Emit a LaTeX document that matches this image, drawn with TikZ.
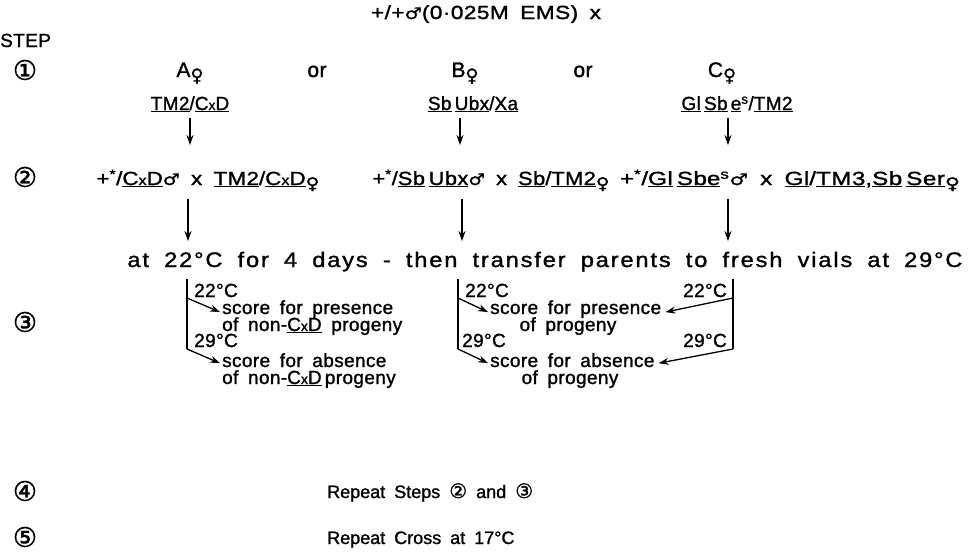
\documentclass[tikz,border=0pt]{standalone}
\usepackage{fontspec}
\setmainfont{Liberation Sans}[WordSpace=1.7,LetterSpace=2,FakeBold=1.3]
\newfontfamily\dv{DejaVu Sans}[FakeBold=1.3]
\newfontfamily\widefont{Liberation Sans}[WordSpace=1.8,LetterSpace=8,FakeBold=1.3]
\newfontfamily\plainfont{Liberation Sans}[WordSpace=1.8,FakeBold=1.3]
\usepackage{graphicx}
\usetikzlibrary{arrows.meta}
\newcommand\ul[1]{\underline{#1}}
\newcommand\fem{\raisebox{-0.4ex}{\scalebox{0.85}{{\dv ♀}}}}
\newcommand\mal{\scalebox{0.85}{{\dv ♂}}}
\newcommand\smx{{\fontsize{14}{14}\selectfont x}}
\newcommand\fitw[2]{\resizebox{#1}{\height}{#2}}
\newcommand\stx{\textsuperscript{*}}
\newcommand\cd[1]{{\dv\fontsize{20}{20}\selectfont #1}}
\begin{document}
\begin{tikzpicture}[x=1pt,y=-1pt,
  every node/.style={inner sep=0pt},
  txt/.style={font=\fontsize{19}{22}\selectfont},
  big/.style={font=\fontsize{21}{24}\selectfont},
  rep/.style={font=\plainfont\fontsize{18}{21}\selectfont},
  circ/.style={font=\dv\fontsize{27}{27}\selectfont},
  arr/.style={-{Stealth[length=10pt,width=7pt]}, line width=1.3pt},
  ln/.style={line width=1.3pt}]
\useasboundingbox (0,0) rectangle (970,552);

% header
\node[txt,anchor=base] (title) at (486,19) {\fitw{230pt}{+/+\mal(0·025M EMS) x}};
\node[txt,anchor=base west] (step) at (0,47) {STEP};

% step numbers
\node[circ] (n1) at (25,70) {①};
\node[circ] (n2) at (25,177) {②};
\node[circ] (n3) at (25,322) {③};
\node[circ] (n4) at (25,491) {④};
\node[circ] (n5) at (25,537) {⑤};

% step 1
\node[big,anchor=base] (A) at (190,77) {A\fem};
\node[big,anchor=base] (or1) at (317,77) {or};
\node[big,anchor=base] (B) at (465,77) {B\fem};
\node[big,anchor=base] (or2) at (583,77) {or};
\node[big,anchor=base] (C) at (722,77) {C\fem};

\node[txt,anchor=base] (gA) at (190,110) {\ul{TM2}/\ul{C\smx D}};
\node[txt,anchor=base] (gB) at (473,110) {\ul{Sb}\,\ul{Ubx}/\ul{Xa}};
\node[txt,anchor=base] (gC) at (737,110) {\ul{Gl}\,\ul{Sb}\,\ul{e}\textsuperscript{s}/\ul{TM2}};

\coordinate (a1t) at (190,118); \coordinate (a1b) at (190,145);
\coordinate (b1t) at (460,118); \coordinate (b1b) at (460,145);
\coordinate (c1t) at (728,118); \coordinate (c1b) at (728,145);
\draw[arr] (a1t) -- (a1b);
\draw[arr] (b1t) -- (b1b);
\draw[arr] (c1t) -- (c1b);

% step 2
\node[txt,anchor=base] (xA) at (208,185) {\fitw{223pt}{+\stx/\ul{C\smx D}\mal{} x \ul{TM2}/\ul{C\smx D}\fem}};
\node[txt,anchor=base] (xB) at (491,185) {\fitw{237pt}{+\stx/\ul{Sb}\,\ul{Ubx}\mal{} x \ul{Sb}/\ul{TM2}\fem}};
\node[txt,anchor=base] (xC) at (790,185) {\fitw{340pt}{+\stx/\ul{Gl}\,\ul{Sb}\ul{e}\textsuperscript{s}\mal{} x \ul{Gl}/\ul{TM3},\ul{Sb}\,\ul{Ser}\fem}};

\coordinate (a2t) at (188,199); \coordinate (a2b) at (188,241);
\coordinate (b2t) at (462,199); \coordinate (b2b) at (462,241);
\coordinate (c2t) at (728,199); \coordinate (c2b) at (728,241);
\draw[arr] (a2t) -- (a2b);
\draw[arr] (b2t) -- (b2b);
\draw[arr] (c2t) -- (c2b);

\node[anchor=base,font=\widefont\fontsize{21}{24}\selectfont] (temp) at (545,267) {\fitw{835pt}{at 22°C for 4 days - then transfer parents to fresh vials at 29°C}};

% step 3, left
\coordinate (L0) at (187,279); \coordinate (Lp) at (187,298); \coordinate (L1) at (187,349);
\node[txt,anchor=base west] (l22) at (194,297) {22°C};
\node[txt,anchor=base west] (lp1) at (222,314) {score for presence};
\node[txt,anchor=base west] (lp2) at (222,331) {of non-\ul{C\smx D} progeny};
\node[txt,anchor=base west] (l29) at (194,347) {29°C};
\node[txt,anchor=base west] (la1) at (222,367) {score for absence};
\node[txt,anchor=base west] (la2) at (222,384) {of non-\ul{C\smx D}\,progeny};
\draw[ln] (L0) -- (L1);
\draw[arr] (Lp) -- ([xshift=-2pt,yshift=-3pt]lp1.west);
\draw[arr] (L1) -- ([xshift=-2pt,yshift=-3pt]la1.west);

% step 3, middle
\coordinate (M0) at (458,279); \coordinate (Mp) at (458,298); \coordinate (M1) at (458,349);
\node[txt,anchor=base west] (m22) at (465,297) {22°C};
\node[txt,anchor=base west] (mp1) at (490,314) {score for presence};
\node[txt,anchor=base] (mp2) at (568,331) {of progeny};
\node[txt,anchor=base west] (m29) at (462,347) {29°C};
\node[txt,anchor=base west] (ma1) at (490,367) {score for absence};
\node[txt,anchor=base] (ma2) at (570,384) {of progeny};
\draw[ln] (M0) -- (M1);
\draw[arr] (Mp) -- ([xshift=-2pt,yshift=-3pt]mp1.west);
\draw[arr] (M1) -- ([xshift=-2pt,yshift=-3pt]ma1.west);

% step 3, right
\coordinate (R0) at (733,279); \coordinate (Rp) at (733,298); \coordinate (R1) at (733,349);
\node[txt,anchor=base east] (r22) at (727,297) {22°C};
\node[txt,anchor=base east] (r29) at (727,347) {29°C};
\draw[ln] (R0) -- (R1);
\draw[arr] (Rp) -- ([xshift=4pt,yshift=-3pt]mp1.east);
\draw[arr] (R1) -- ([xshift=4pt,yshift=-3pt]ma1.east);

% steps 4 and 5
\node[rep,anchor=base west] (r4) at (327,498) {Repeat Steps \cd{②} and \cd{③}};
\node[rep,anchor=base west] (r5) at (327,544) {Repeat Cross at 17°C};
\end{tikzpicture}
\end{document}
